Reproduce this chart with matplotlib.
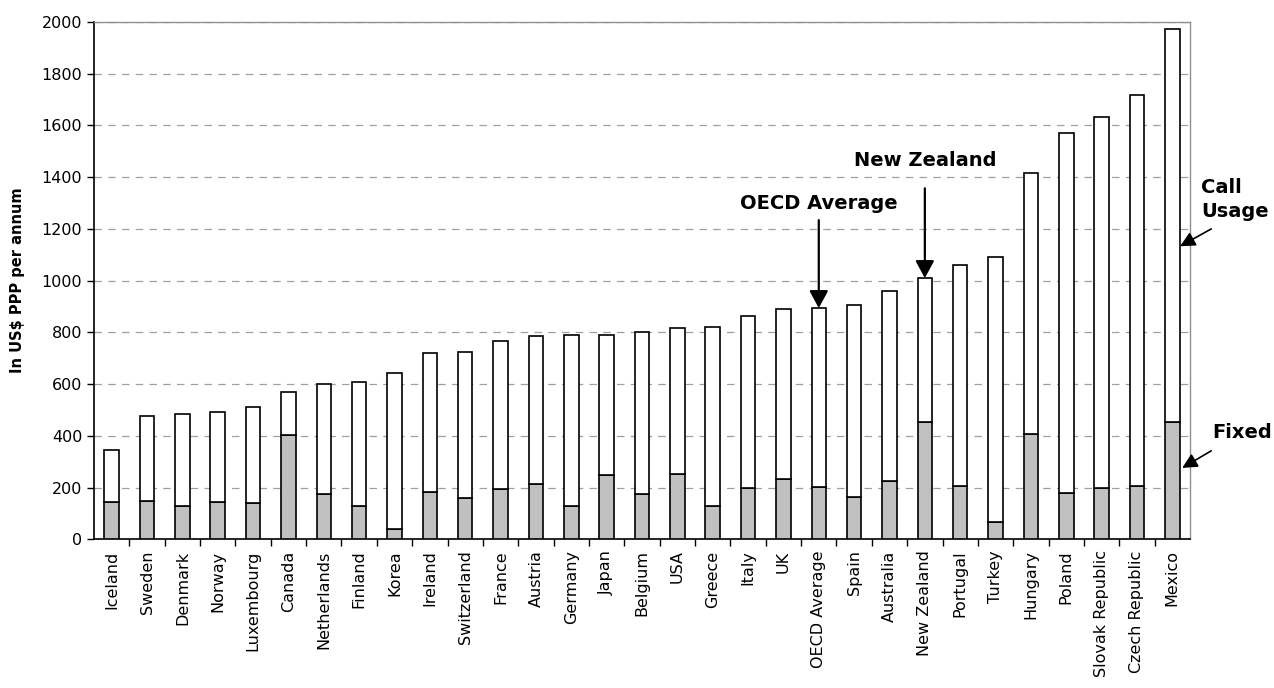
import numpy as np
import matplotlib
matplotlib.use("Agg")
import matplotlib.pyplot as plt

# Data (US$ PPP per annum)
countries = ['Iceland', 'Sweden', 'Denmark', 'Norway', 'Luxembourg', 'Canada',
             'Netherlands', 'Finland', 'Korea', 'Ireland', 'Switzerland', 'France',
             'Austria', 'Germany', 'Japan', 'Belgium', 'USA', 'Greece', 'Italy', 'UK',
             'OECD Average', 'Spain', 'Australia', 'New Zealand', 'Portugal', 'Turkey',
             'Hungary', 'Poland', 'Slovak Republic', 'Czech Republic', 'Mexico']
fixed = [143, 147, 129, 144, 142, 405, 175, 129, 40, 183, 159, 195, 214, 127, 249,
         176, 252, 130, 200, 234, 204, 164, 224, 452, 208, 67, 407, 179, 197, 207, 453]
call_usage = [203, 330, 356, 349, 370, 166, 424, 479, 604, 537, 566, 571, 573, 662,
              542, 625, 565, 689, 663, 657, 690, 740, 736, 558, 851, 1025, 1009, 1392,
              1435, 1509, 1520]

fixed = np.array(fixed)
call_usage = np.array(call_usage)
totals = fixed + call_usage
x = np.arange(len(countries))

fig = plt.figure(figsize=(12.74, 6.88), dpi=100)
ax = fig.add_axes([94 / 1274, 1 - 539.3 / 688, 1096 / 1274, (539.3 - 22) / 688])

# Stacked bars
ax.bar(x, fixed, width=0.41, color='#c0c0c0', edgecolor='black', linewidth=1.2, zorder=3)
ax.bar(x, call_usage, width=0.41, bottom=fixed, color='white', edgecolor='black',
       linewidth=1.2, zorder=3)

# Axes setup
ax.set_xlim(-0.5, len(countries) - 0.5)
ax.set_ylim(0, 2000)
ax.set_yticks(np.arange(0, 2001, 200))
ax.yaxis.grid(True, linestyle=(0, (6, 5)), color='#a0a0a0', linewidth=0.9)
ax.set_axisbelow(True)

ax.set_xticks(x)
ax.set_xticklabels(countries, rotation=90, fontsize=11.5)
ax.tick_params(axis='x', which='major', length=0, pad=8)
ax.set_xticks(np.arange(0.5, len(countries) - 0.5, 1), minor=True)
ax.tick_params(axis='x', which='minor', length=5, width=1, direction='out')
ax.tick_params(axis='y', labelsize=11.5, length=5, width=1, direction='out')

ax.spines['left'].set_color('black')
ax.spines['bottom'].set_color('black')
ax.spines['left'].set_linewidth(1.2)
ax.spines['bottom'].set_linewidth(1.2)
for s in ['top', 'right']:
    ax.spines[s].set_color('#909090')
    ax.spines[s].set_linewidth(1.0)

ax.set_ylabel('In US$ PPP per annum', fontsize=10.5, fontweight='bold', labelpad=12)

# Annotations
big_arrow = dict(arrowstyle='-|>,head_length=0.7,head_width=0.38', color='black',
                 lw=1.6, mutation_scale=15, shrinkA=0, shrinkB=0)
small_arrow = dict(arrowstyle='-|>,head_length=0.6,head_width=0.3', color='black',
                   lw=1.2, mutation_scale=15, shrinkA=0, shrinkB=0)

oecd = countries.index('OECD Average')
nz = countries.index('New Zealand')

ax.text(oecd, 1300, 'OECD Average', ha='center', va='center', fontsize=14, fontweight='bold')
ax.annotate('', xy=(oecd, totals[oecd]), xytext=(oecd, 1234), arrowprops=big_arrow)

ax.text(nz, 1466, 'New Zealand', ha='center', va='center', fontsize=14, fontweight='bold')
ax.annotate('', xy=(nz, totals[nz]), xytext=(nz, 1357), arrowprops=big_arrow)

ax.text(30.82, 1313, 'Call\nUsage', ha='left', va='center', fontsize=14,
        fontweight='bold', linespacing=1.35, clip_on=False)
ax.annotate('', xy=(30.22, 1133), xytext=(31.1, 1200), arrowprops=small_arrow,
            annotation_clip=False)

ax.text(31.13, 411, 'Fixed', ha='left', va='center', fontsize=14, fontweight='bold',
        clip_on=False)
ax.annotate('', xy=(30.28, 276), xytext=(31.1, 342), arrowprops=small_arrow,
            annotation_clip=False)

fig.savefig('out.png', dpi=100)
